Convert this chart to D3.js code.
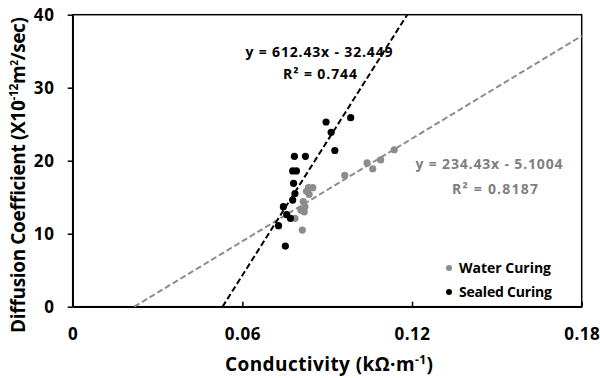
<!DOCTYPE html>
<html>
<head>
<meta charset="utf-8">
<script src="https://cdn.jsdelivr.net/npm/d3@7"></script>
<style>
  body { margin: 0; background: #fff; }
  text { font-family: "Open Sans", "Noto Sans", sans-serif; font-weight: bold; }
</style>
</head>
<body>
<svg id="graph"></svg>
<script>
// Values
var waterX = [0.1137, 0.1089, 0.1041, 0.1061, 0.0962, 0.0849, 0.0834, 0.0827, 0.0836, 0.0815, 0.0821, 0.0807, 0.0819, 0.0786, 0.0812];
var waterY = [21.5, 20.1, 19.7, 18.9, 18.0, 16.3, 16.3, 15.8, 15.4, 14.4, 13.7, 13.2, 13.0, 12.1, 10.5];
var sealedX = [0.0983, 0.0896, 0.0914, 0.0927, 0.0823, 0.0784, 0.0778, 0.0791, 0.0781, 0.0786, 0.0778, 0.0745, 0.0757, 0.0770, 0.0728, 0.0752];
var sealedY = [25.9, 25.3, 23.9, 21.4, 20.6, 20.6, 18.6, 18.6, 16.9, 15.5, 14.6, 13.7, 12.6, 12.1, 11.1, 8.3];
var xTicks = [0, 0.06, 0.12, 0.18];
var yTicks = [0, 10, 20, 30, 40];
var waterFit = { slope: 234.43, intercept: -5.1004, eq: "y = 234.43x - 5.1004", r2: "R² = 0.8187" };
var sealedFit = { slope: 612.43, intercept: -32.449, eq: "y = 612.43x - 32.449", r2: "R² = 0.744" };

var svg = d3.select("#graph")
    .attr("width", 600)
    .attr("height", 378);

var margin = {top: 14.7, right: 18.3, bottom: 71.3, left: 72.7},
    width = 600 - margin.left - margin.right,
    height = 378 - margin.top - margin.bottom;

var x = d3.scaleLinear().domain([0, 0.18]).range([0, width]),
    y = d3.scaleLinear().domain([0, 40]).range([height, 0]);

var g = svg.append("g")
    .attr("transform", "translate(" + margin.left + "," + margin.top + ")");

// frame of the plot area
g.append("rect")
    .attr("width", width)
    .attr("height", height)
    .attr("fill", "none")
    .attr("stroke", "#000")
    .attr("stroke-width", 1.5);

// x axis, ticks pointing up into the plot
var xAxis = g.append("g")
    .attr("transform", "translate(0," + height + ")")
    .call(d3.axisBottom(x).tickValues(xTicks).tickSizeInner(-5).tickSizeOuter(0).tickPadding(21)
      .tickFormat(function(d) { return d === 0 ? "0" : d3.format(".2f")(d); }));
xAxis.select(".domain").attr("stroke-width", 1.5);
xAxis.selectAll("line").attr("stroke-width", 1.5);
xAxis.selectAll("text").attr("font-size", 17).attr("fill", "#000")
    .style("letter-spacing", "0.5px")
    .style("font-family", "'Open Sans', sans-serif").style("font-weight", "bold");

// y axis
var yAxis = g.append("g")
    .call(d3.axisLeft(y).tickValues(yTicks).tickSizeInner(5).tickSizeOuter(0).tickPadding(13));
yAxis.select(".domain").attr("stroke-width", 1.5);
yAxis.selectAll("line").attr("stroke-width", 1.5);
yAxis.selectAll("text").attr("font-size", 17).attr("fill", "#000")
    .style("letter-spacing", "0.8px")
    .style("font-family", "'Open Sans', sans-serif").style("font-weight", "bold");

// trendlines, clipped to the plot area by the equation itself
function fitLine(fit, color) {
  var x0 = Math.max(0, (0 - fit.intercept) / fit.slope),
      x1 = Math.min(0.18, (40 - fit.intercept) / fit.slope);
  g.append("line")
    .attr("x1", x(x0)).attr("y1", y(fit.slope * x0 + fit.intercept))
    .attr("x2", x(x1)).attr("y2", y(fit.slope * x1 + fit.intercept))
    .attr("stroke", color)
    .attr("stroke-width", 2)
    .attr("stroke-dasharray", "6,3");
}
fitLine(waterFit, "#8c8c8c");
fitLine(sealedFit, "#000");

// points
g.selectAll(".water")
  .data(waterX)
  .enter().append("circle")
    .attr("class", "water")
    .attr("cx", function(d) { return x(d); })
    .attr("cy", function(d, i) { return y(waterY[i]); })
    .attr("r", 3.6)
    .attr("fill", "#8c8c8c");

g.selectAll(".sealed")
  .data(sealedX)
  .enter().append("circle")
    .attr("class", "sealed")
    .attr("cx", function(d) { return x(d); })
    .attr("cy", function(d, i) { return y(sealedY[i]); })
    .attr("r", 3.6)
    .attr("fill", "#000");

// equations (widths stretched to the wide original face)
function label(px, py, str, color, len) {
  svg.append("text").attr("x", px).attr("y", py).attr("text-anchor", "middle")
    .attr("font-size", 14).attr("fill", color)
    .attr("textLength", len).attr("lengthAdjust", "spacing")
    .text(str);
}
label(319, 57, sealedFit.eq, "#000", 147);
label(320, 79, sealedFit.r2, "#000", 74);
label(489, 169, waterFit.eq, "#7f7f7f", 147);
label(495, 194, waterFit.r2, "#7f7f7f", 86);

// legend
var legend = [["Water Curing", "#8c8c8c", 92], ["Sealed Curing", "#000", 93]];
var lg = svg.selectAll(".legend")
  .data(legend)
  .enter().append("g")
    .attr("class", "legend")
    .attr("transform", function(d, i) { return "translate(449," + (268 + i * 24) + ")"; });
lg.append("circle").attr("r", 3).attr("fill", function(d) { return d[1]; });
lg.append("text").attr("x", 10).attr("dy", "0.35em").attr("font-size", 14)
    .attr("textLength", function(d) { return d[2]; }).attr("lengthAdjust", "spacing")
    .attr("fill", "#000").text(function(d) { return d[0]; });

// axis titles
var xt = svg.append("text")
    .attr("x", 329).attr("y", 371)
    .attr("text-anchor", "middle")
    .attr("font-size", 19)
    .attr("textLength", 208).attr("lengthAdjust", "spacing")
    .attr("fill", "#000");
xt.append("tspan").text("Conductivity (kΩ·m");
xt.append("tspan").attr("dy", -7).attr("font-size", 12).text("-1");
xt.append("tspan").attr("dy", 7).text(")");

var yt = svg.append("text")
    .attr("transform", "translate(25,175) rotate(-90)")
    .attr("text-anchor", "middle")
    .attr("font-size", 19)
    .attr("textLength", 316).attr("lengthAdjust", "spacing")
    .attr("fill", "#000");
yt.append("tspan").text("Diffusion Coefficient (X10");
yt.append("tspan").attr("dy", -7).attr("font-size", 12).text("-12");
yt.append("tspan").attr("dy", 7).text("m");
yt.append("tspan").attr("dy", -7).attr("font-size", 10).text("2");
yt.append("tspan").attr("dy", 7).text("/sec)");
</script>
</body>
</html>
